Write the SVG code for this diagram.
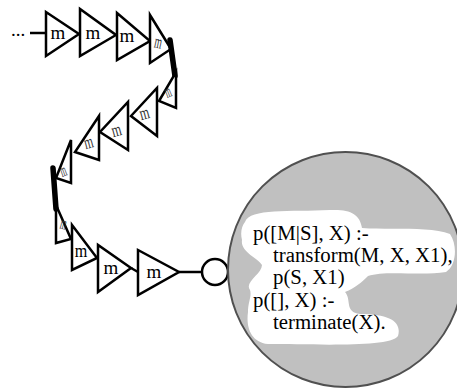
<svg xmlns="http://www.w3.org/2000/svg" width="457" height="389" viewBox="0 0 457 389">
  <style>
    .tri { fill: #ffffff; stroke: #000000; stroke-width: 2.5; stroke-linejoin: miter; }
    .edge { fill: none; stroke: #000000; stroke-width: 5.5; stroke-linecap: round; }
    .lbl { font-family: "Liberation Serif", "DejaVu Serif", serif; font-size: 19px; fill: #000000; text-anchor: middle; }
    .dim { fill: #333333; }
    .wire { fill: none; stroke: #000000; stroke-width: 2.5; }
    .code { font-family: "Liberation Serif", "DejaVu Serif", serif; font-size: 20.8px; fill: #000000; }
  </style>

  <!-- connectors -->
  <g id="connectors">
    <line class="wire" x1="30" y1="33" x2="46" y2="33"/>
    <line class="wire" x1="131" y1="268" x2="138" y2="272"/>
    <line class="wire" x1="179" y1="272" x2="202" y2="272"/>
  </g>

  <!-- incoming stream -->
  <g id="ellipsis">
    <text x="11" y="36" style="font-family: 'Liberation Serif', serif; font-size: 19px;">...</text>
  </g>

  <!-- upper row, heading right -->
  <g id="m1">
    <polygon class="tri" points="46,12 46,56 79,34"/>
    <text class="lbl" x="58" y="39">m</text>
  </g>
  <g id="m2">
    <polygon class="tri" points="80,9 80,56 116,35"/>
    <text class="lbl" x="93" y="39">m</text>
  </g>
  <g id="m3">
    <polygon class="tri" points="117,13 117,60 150,41"/>
    <text class="lbl" x="127" y="42">m</text>
  </g>
  <g id="m4">
    <polygon class="tri" points="150,15 150,63 171,49"/>
    <text class="lbl dim" transform="translate(157,48) rotate(12) scale(0.5,1)">m</text>
  </g>
  <g id="turn1">
    <line class="edge" x1="170" y1="40" x2="175" y2="76"/>
  </g>

  <!-- middle row, heading back left -->
  <g id="m5">
    <polygon class="tri" points="176,72 176,108 159,101"/>
    <text class="lbl dim" transform="translate(170,97) rotate(-22) scale(0.4,0.95)">m</text>
  </g>
  <g id="m6">
    <polygon class="tri" points="157,88 157,136 131,116"/>
    <text class="lbl dim" transform="translate(146,119) rotate(-15) scale(0.65,1)">m</text>
  </g>
  <g id="m7">
    <polygon class="tri" points="128,102 128,150 100,132"/>
    <text class="lbl dim" transform="translate(118,136) rotate(-15) scale(0.65,1)">m</text>
  </g>
  <g id="m8">
    <polygon class="tri" points="99,116 99,160 75,152"/>
    <text class="lbl dim" transform="translate(90,148) rotate(-15) scale(0.6,1)">m</text>
  </g>
  <g id="m9">
    <polygon class="tri" points="71,140 71,183 56,178"/>
    <text class="lbl dim" transform="translate(65,176) rotate(-20) scale(0.4,0.95)">m</text>
  </g>
  <g id="turn2">
    <line class="edge" x1="53" y1="168" x2="56" y2="209"/>
  </g>

  <!-- lower row, heading right -->
  <g id="m10">
    <polygon class="tri" points="56,205 56,243 71,239"/>
    <text class="lbl dim" transform="translate(62,229) rotate(15) scale(0.4,0.95)">m</text>
  </g>
  <g id="m11">
    <polygon class="tri" points="72,225 72,270 97,258"/>
    <text class="lbl" transform="translate(81,257) scale(0.85,1)">m</text>
  </g>
  <g id="m12">
    <polygon class="tri" points="98,245 98,292 131,268"/>
    <text class="lbl" x="111" y="274">m</text>
  </g>
  <g id="m13">
    <polygon class="tri" points="138,250 138,295 179,272"/>
    <text class="lbl" x="154" y="278">m</text>
  </g>

  <!-- input port -->
  <g id="port">
    <circle cx="215" cy="272" r="13" fill="#ffffff" stroke="#000000" stroke-width="2.5"/>
  </g>

  <!-- process body with its program -->
  <g id="process">
    <circle cx="345.5" cy="269.5" r="117.5" fill="#c0c0c0" stroke="#505050" stroke-width="2"/>
    <path fill="#ffffff" d="M 245,222 C 250,208 290,212 330,210 C 350,209 360,214 362,228 C 390,230 430,226 450,234 C 458,246 456,266 446,272 C 420,276 385,270 368,276 C 362,282 355,288 345,292 C 352,300 344,312 360,314 C 390,314 402,322 398,336 C 390,348 310,344 268,344 C 250,342 246,326 248,312 C 248,302 252,296 250,290 C 244,282 262,274 262,265 C 258,258 240,252 242,240 C 240,232 242,226 245,222 Z"/>
    <text class="code" x="253" y="240">p([M|S], X) :-</text>
    <text class="code" x="273" y="262">transform(M, X, X1),</text>
    <text class="code" x="273" y="284">p(S, X1)</text>
    <text class="code" x="253" y="306.5">p([], X) :-</text>
    <text class="code" x="273" y="329">terminate(X).</text>
  </g>
</svg>
